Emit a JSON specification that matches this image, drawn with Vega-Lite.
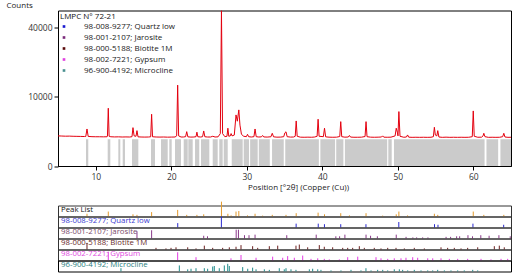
{
"$schema": "https://vega.github.io/schema/vega-lite/v6.json",
"padding": {"left": 5, "top": 0.5, "right": 3, "bottom": 2},
"config": {
  "font": "Open Sans",
  "axis": {"labelFont": "Open Sans", "titleFont": "Open Sans", "labelFontSize": 8.5, "titleFontSize": 8, "titleFontWeight": "normal", "labelColor": "#333", "titleColor": "#222", "domainColor": "#000", "tickColor": "#000", "grid": false},
  "legend": {"labelFont": "Open Sans", "titleFont": "Open Sans"},
  "text": {"font": "Open Sans"}
},
"datasets": {
  "xrd": [
    {"t":5.0,"c":1900},{"t":5.5,"c":1880},{"t":6.0,"c":1860},{"t":6.5,"c":1870},{"t":7.0,"c":1850},{"t":7.5,"c":1840},{"t":8.0,"c":1830},{"t":8.5,"c":1820},{"t":8.68,"c":1830},{"t":8.84,"c":2870},{"t":9.0,"c":1830},{"t":9.5,"c":1800},{"t":10.0,"c":1790},{"t":10.5,"c":1790},{"t":11.0,"c":1780},{"t":11.5,"c":1790},{"t":11.55,"c":1850},{"t":11.66,"c":6990},{"t":11.77,"c":1850},{"t":12.0,"c":1790},{"t":12.5,"c":1770},{"t":13.0,"c":1780},{"t":13.5,"c":1760},{"t":14.0,"c":1770},{"t":14.5,"c":1760},{"t":14.8,"c":1800},{"t":14.93,"c":3080},{"t":15.08,"c":1900},{"t":15.33,"c":1850},{"t":15.46,"c":2620},{"t":15.6,"c":1780},{"t":16.0,"c":1760},{"t":16.5,"c":1750},{"t":17.0,"c":1760},{"t":17.28,"c":1790},{"t":17.4,"c":5610},{"t":17.52,"c":1790},{"t":18.0,"c":1760},{"t":18.5,"c":1750},{"t":19.0,"c":1760},{"t":19.5,"c":1740},{"t":20.0,"c":1750},{"t":20.5,"c":1760},{"t":20.72,"c":1900},{"t":20.85,"c":13690},{"t":20.98,"c":1900},{"t":21.3,"c":1760},{"t":21.6,"c":1760},{"t":21.9,"c":1800},{"t":22.05,"c":2470},{"t":22.2,"c":1780},{"t":22.6,"c":1750},{"t":23.0,"c":1760},{"t":23.28,"c":1800},{"t":23.4,"c":2400},{"t":23.52,"c":1790},{"t":23.9,"c":1760},{"t":24.15,"c":1800},{"t":24.3,"c":2570},{"t":24.45,"c":1790},{"t":24.8,"c":1760},{"t":25.2,"c":1760},{"t":25.5,"c":1850},{"t":25.8,"c":1760},{"t":26.2,"c":1780},{"t":26.5,"c":2200},{"t":26.65,"c":50600},{"t":26.8,"c":2200},{"t":27.1,"c":1800},{"t":27.38,"c":1850},{"t":27.5,"c":2990},{"t":27.62,"c":1850},{"t":27.82,"c":1900},{"t":27.93,"c":2200},{"t":28.05,"c":1900},{"t":28.35,"c":2000},{"t":28.58,"c":5460},{"t":28.75,"c":4200},{"t":28.95,"c":6590},{"t":29.1,"c":3500},{"t":29.3,"c":2100},{"t":29.6,"c":1850},{"t":29.95,"c":1800},{"t":30.1,"c":2100},{"t":30.25,"c":1800},{"t":30.6,"c":1760},{"t":30.95,"c":1800},{"t":31.1,"c":2870},{"t":31.25,"c":1800},{"t":31.6,"c":1760},{"t":31.95,"c":1780},{"t":32.1,"c":1950},{"t":32.25,"c":1770},{"t":32.7,"c":1750},{"t":33.2,"c":1790},{"t":33.38,"c":2240},{"t":33.55,"c":1780},{"t":34.0,"c":1740},{"t":34.5,"c":1750},{"t":34.9,"c":1800},{"t":35.05,"c":2300},{"t":35.2,"c":2450},{"t":35.35,"c":1800},{"t":35.8,"c":1750},{"t":36.2,"c":1760},{"t":36.42,"c":1850},{"t":36.55,"c":4250},{"t":36.68,"c":1850},{"t":37.1,"c":1740},{"t":37.6,"c":1730},{"t":38.1,"c":1740},{"t":38.6,"c":1730},{"t":39.0,"c":1760},{"t":39.32,"c":1850},{"t":39.45,"c":4580},{"t":39.58,"c":1850},{"t":40.15,"c":1800},{"t":40.3,"c":2990},{"t":40.45,"c":1780},{"t":40.9,"c":1740},{"t":41.4,"c":1730},{"t":41.9,"c":1740},{"t":42.32,"c":1820},{"t":42.45,"c":4120},{"t":42.58,"c":1800},{"t":43.0,"c":1740},{"t":43.45,"c":1760},{"t":43.6,"c":1950},{"t":43.75,"c":1750},{"t":44.2,"c":1730},{"t":44.7,"c":1730},{"t":45.2,"c":1740},{"t":45.67,"c":1820},{"t":45.8,"c":4120},{"t":45.93,"c":1800},{"t":46.4,"c":1740},{"t":46.9,"c":1730},{"t":47.4,"c":1740},{"t":47.85,"c":1760},{"t":48.0,"c":1900},{"t":48.15,"c":1740},{"t":48.6,"c":1730},{"t":49.1,"c":1740},{"t":49.65,"c":1900},{"t":49.8,"c":2990},{"t":49.95,"c":2400},{"t":50.03,"c":1900},{"t":50.15,"c":6200},{"t":50.3,"c":1850},{"t":50.8,"c":1730},{"t":51.15,"c":1760},{"t":51.3,"c":2020},{"t":51.45,"c":1740},{"t":51.9,"c":1720},{"t":52.4,"c":1730},{"t":52.9,"c":1720},{"t":53.4,"c":1730},{"t":53.9,"c":1720},{"t":54.4,"c":1730},{"t":54.72,"c":1800},{"t":54.85,"c":3140},{"t":54.98,"c":2000},{"t":55.18,"c":1900},{"t":55.3,"c":2620},{"t":55.45,"c":1760},{"t":55.9,"c":1720},{"t":56.4,"c":1740},{"t":56.9,"c":1720},{"t":57.4,"c":1730},{"t":57.9,"c":1720},{"t":58.4,"c":1730},{"t":58.9,"c":1720},{"t":59.4,"c":1730},{"t":59.87,"c":1800},{"t":60.0,"c":6350},{"t":60.13,"c":1850},{"t":60.6,"c":1730},{"t":61.1,"c":1740},{"t":61.3,"c":1900},{"t":61.4,"c":2240},{"t":61.55,"c":1800},{"t":62.0,"c":1720},{"t":62.5,"c":1730},{"t":63.0,"c":1720},{"t":63.5,"c":1730},{"t":63.9,"c":1800},{"t":64.05,"c":2240},{"t":64.2,"c":1760},{"t":64.6,"c":1720},{"t":65.0,"c":1730}
  ],
  "gray": [
    {"a":8.71,"b":9.01},{"a":11.58,"b":11.93},{"a":12.99,"b":13.25},{"a":13.57,"b":13.87},{"a":14.8,"b":15.64},{"a":17.32,"b":17.85},{"a":18.64,"b":19.53},{"a":19.74,"b":20.06},{"a":20.5,"b":21.29},{"a":21.65,"b":22.18},{"a":22.26,"b":22.84},{"a":23.15,"b":23.71},{"a":23.94,"b":25.04},{"a":25.49,"b":26.15},{"a":26.36,"b":26.81},{"a":26.95,"b":27.48},{"a":28.01,"b":29.46},{"a":29.6,"b":30.3},{"a":30.45,"b":31.45},{"a":31.6,"b":33.05},{"a":33.35,"b":34.9},{"a":35.1,"b":39.55},{"a":39.75,"b":41.7},{"a":41.85,"b":42.8},{"a":43.0,"b":48.6},{"a":48.75,"b":49.2},{"a":49.5,"b":61.5},{"a":61.75,"b":63.3},{"a":63.6,"b":65.0}
  ],
  "phases": [
    {"phase":"98-008-9277; Quartz low"},{"phase":"98-001-2107; Jarosite"},{"phase":"98-000-5188; Biotite 1M"},{"phase":"98-002-7221; Gypsum"},{"phase":"96-900-4192; Microcline"}
  ],
  "peaklist": [
    {"t":8.84,"h":0.25},{"t":11.66,"h":0.45},{"t":14.93,"h":0.2},{"t":15.46,"h":0.15},{"t":17.4,"h":0.4},{"t":20.85,"h":0.6},{"t":22.05,"h":0.15},{"t":23.4,"h":0.15},{"t":24.3,"h":0.2},{"t":26.65,"h":1.35},{"t":27.5,"h":0.25},{"t":27.93,"h":0.1},{"t":28.58,"h":0.45},{"t":28.95,"h":0.5},{"t":30.1,"h":0.1},{"t":31.1,"h":0.25},{"t":32.1,"h":0.08},{"t":33.38,"h":0.15},{"t":35.2,"h":0.15},{"t":36.55,"h":0.3},{"t":39.45,"h":0.35},{"t":40.3,"h":0.2},{"t":42.45,"h":0.3},{"t":43.6,"h":0.1},{"t":45.8,"h":0.3},{"t":48.0,"h":0.08},{"t":49.8,"h":0.2},{"t":50.15,"h":0.45},{"t":51.3,"h":0.1},{"t":54.85,"h":0.25},{"t":55.3,"h":0.15},{"t":60.0,"h":0.45},{"t":61.4,"h":0.15},{"t":64.05,"h":0.15}
  ],
  "quartz": [
    {"t":20.86,"h":0.4},{"t":26.64,"h":1.0},{"t":36.54,"h":0.35},{"t":39.47,"h":0.35},{"t":40.29,"h":0.3},{"t":42.45,"h":0.3},{"t":45.79,"h":0.3},{"t":50.14,"h":0.5},{"t":54.87,"h":0.3},{"t":55.33,"h":0.25},{"t":59.96,"h":0.35},{"t":64.03,"h":0.25}
  ],
  "jarosite": [
    {"t":15.46,"h":0.65},{"t":17.4,"h":0.75},{"t":24.3,"h":0.25},{"t":24.8,"h":0.2},{"t":28.6,"h":0.8},{"t":28.9,"h":0.8},{"t":29.7,"h":0.3},{"t":30.3,"h":0.3},{"t":31.1,"h":0.35},{"t":35.3,"h":0.3},{"t":39.2,"h":0.35},{"t":41.8,"h":0.2},{"t":42.3,"h":0.2},{"t":43.0,"h":0.35},{"t":45.8,"h":0.35},{"t":46.4,"h":0.25},{"t":47.3,"h":0.2},{"t":49.8,"h":0.35},{"t":51.1,"h":0.15},{"t":52.0,"h":0.1},{"t":52.5,"h":0.1},{"t":53.3,"h":0.1},{"t":54.0,"h":0.1},{"t":56.4,"h":0.15},{"t":57.0,"h":0.15},{"t":57.8,"h":0.2},{"t":58.2,"h":0.2},{"t":59.3,"h":0.3},{"t":59.9,"h":0.2},{"t":61.0,"h":0.3},{"t":62.1,"h":0.25},{"t":63.4,"h":0.3},{"t":64.9,"h":0.2}
  ],
  "biotite": [
    {"t":8.84,"h":0.6},{"t":17.98,"h":0.15},{"t":19.3,"h":0.1},{"t":19.97,"h":0.15},{"t":20.63,"h":0.2},{"t":22.18,"h":0.2},{"t":23.28,"h":0.1},{"t":24.38,"h":0.35},{"t":25.49,"h":0.15},{"t":26.81,"h":0.15},{"t":27.69,"h":0.2},{"t":28.58,"h":0.25},{"t":29.24,"h":0.4},{"t":30.78,"h":0.3},{"t":31.45,"h":0.15},{"t":32.99,"h":0.3},{"t":34.1,"h":0.35},{"t":36.52,"h":0.35},{"t":36.96,"h":0.45},{"t":38.07,"h":0.2},{"t":39.61,"h":0.4},{"t":40.27,"h":0.25},{"t":41.38,"h":0.2},{"t":42.71,"h":0.15},{"t":43.37,"h":0.15},{"t":44.03,"h":0.15},{"t":44.91,"h":0.3},{"t":45.57,"h":0.15},{"t":46.89,"h":0.15},{"t":47.78,"h":0.1},{"t":48.67,"h":0.15},{"t":49.77,"h":0.15},{"t":50.87,"h":0.1},{"t":52.19,"h":0.15},{"t":53.52,"h":0.1},{"t":55.73,"h":0.2},{"t":56.61,"h":0.15},{"t":57.49,"h":0.15},{"t":58.38,"h":0.1},{"t":59.26,"h":0.15},{"t":60.59,"h":0.2},{"t":62.79,"h":0.3},{"t":63.45,"h":0.35},{"t":64.11,"h":0.2}
  ],
  "gypsum": [
    {"t":11.66,"h":0.8},{"t":20.85,"h":0.75},{"t":23.28,"h":0.3},{"t":27.91,"h":0.2},{"t":29.24,"h":0.5},{"t":31.23,"h":0.25},{"t":33.43,"h":0.35},{"t":34.76,"h":0.25},{"t":35.42,"h":0.4},{"t":36.3,"h":0.25},{"t":37.41,"h":0.45},{"t":38.51,"h":0.15},{"t":39.4,"h":0.2},{"t":40.27,"h":0.15},{"t":40.93,"h":0.1},{"t":42.26,"h":0.1},{"t":43.37,"h":0.3},{"t":44.7,"h":0.35},{"t":47.12,"h":0.3},{"t":47.78,"h":0.2},{"t":48.67,"h":0.15},{"t":49.54,"h":0.2},{"t":50.43,"h":0.2},{"t":51.09,"h":0.25},{"t":51.98,"h":0.3},{"t":52.64,"h":0.25},{"t":53.97,"h":0.2},{"t":54.63,"h":0.2},{"t":55.73,"h":0.2},{"t":56.83,"h":0.15},{"t":57.94,"h":0.15},{"t":59.26,"h":0.15},{"t":61.03,"h":0.15},{"t":62.35,"h":0.1},{"t":63.68,"h":0.15},{"t":64.56,"h":0.15}
  ],
  "microcline": [
    {"t":13.34,"h":0.3},{"t":21.07,"h":0.55},{"t":22.18,"h":0.2},{"t":22.62,"h":0.25},{"t":23.28,"h":0.3},{"t":24.38,"h":0.3},{"t":24.82,"h":0.25},{"t":25.49,"h":0.45},{"t":25.7,"h":0.5},{"t":26.36,"h":0.3},{"t":27.03,"h":0.55},{"t":27.48,"h":0.7},{"t":27.69,"h":0.5},{"t":29.46,"h":0.4},{"t":30.13,"h":0.25},{"t":30.78,"h":0.35},{"t":31.23,"h":0.2},{"t":32.33,"h":0.2},{"t":32.99,"h":0.15},{"t":34.31,"h":0.3},{"t":34.97,"h":0.2},{"t":35.2,"h":0.3},{"t":35.86,"h":0.2},{"t":36.52,"h":0.15},{"t":38.29,"h":0.2},{"t":38.73,"h":0.25},{"t":39.4,"h":0.2},{"t":39.83,"h":0.15},{"t":41.16,"h":0.1},{"t":42.48,"h":0.1},{"t":43.81,"h":0.15},{"t":45.13,"h":0.1},{"t":45.79,"h":0.3},{"t":46.46,"h":0.1},{"t":47.34,"h":0.15},{"t":48.01,"h":0.15},{"t":48.67,"h":0.1},{"t":49.54,"h":0.2},{"t":50.21,"h":0.2},{"t":50.65,"h":0.15},{"t":51.32,"h":0.1},{"t":52.19,"h":0.15},{"t":53.08,"h":0.1},{"t":53.97,"h":0.1},{"t":54.63,"h":0.1},{"t":55.29,"h":0.15},{"t":56.17,"h":0.1},{"t":57.05,"h":0.1},{"t":57.94,"h":0.1},{"t":58.81,"h":0.1},{"t":59.93,"h":0.15},{"t":60.59,"h":0.1}
  ]
},
"spacing": 8,
"vconcat": [
  {
    "width": 453, "height": 155.5,
    "view": {"stroke": "#000", "strokeWidth": 1},
    "resolve": {"scale": {"color": "independent"}},
    "layer": [
      {
        "data": {"name": "gray"},
        "mark": {"type": "rect", "color": "#cbcbcb"},
        "encoding": {
          "x": {"field": "a", "type": "quantitative", "scale": {"domain": [5, 65], "nice": false, "zero": false},
            "axis": {"values": [10, 20, 30, 40, 50, 60],
              "tickSize": 4,
              "labelPadding": 2, "labelFlush": false,
              "title": "Position [°2θ] (Copper (Cu))", "titleX": 240, "titlePadding": 3}},
          "x2": {"field": "b"},
          "y": {"datum": 0, "type": "quantitative", "scale": {"type": "sqrt", "domain": [0, 50625], "nice": false, "zero": true},
            "axis": {"values": [0, 10000, 40000], "format": "d", "tickSize": 4, "labelPadding": 2,
              "title": "Counts", "titleAngle": 0, "titleX": -52, "titleY": -5, "titleAlign": "left", "titleBaseline": "middle"}},
          "y2": {"datum": 1500}
        }
      },
      {
        "data": {"name": "xrd"},
        "mark": {"type": "line", "color": "#e3000f", "strokeWidth": 1, "clip": true},
        "encoding": {
          "x": {"field": "t", "type": "quantitative"},
          "y": {"field": "c", "type": "quantitative"}
        }
      },
      {
        "data": {"name": "phases"},
        "transform": [{"filter": "datum.phase == null"}],
        "mark": {"type": "point", "shape": "square", "filled": true, "opacity": 1},
        "encoding": {
          "x": {"datum": 5},
          "y": {"datum": 0},
          "color": {"field": "phase", "type": "nominal",
            "scale": {"domain": ["98-008-9277; Quartz low", "98-001-2107; Jarosite", "98-000-5188; Biotite 1M", "98-002-7221; Gypsum", "96-900-4192; Microcline"],
                      "range": ["#1a1ad0", "#7a2a7a", "#5a0a0a", "#e040e0", "#4a9090"]},
            "legend": {"orient": "top-left", "offset": 2, "padding": 0, "title": "LMPC N° 72-21",
              "titleFontSize": 8, "titleFontWeight": "normal", "titleColor": "#111", "titlePadding": 2,
              "labelFontSize": 8, "labelColor": "#222", "labelOffset": 16, "rowPadding": 3,
              "symbolType": "square", "symbolSize": 7, "symbolStrokeWidth": 0}}
        }
      }
    ]
  },
  {
    "spacing": 0,
    "bounds": "flush",
    "vconcat": [
      {"width": 453, "height": 11, "view": {"stroke": "#333"},
       "layer": [
        {"data": {"name": "peaklist"}, "mark": {"type": "rule", "color": "#e39a2c", "strokeWidth": 1, "clip": false},
         "encoding": {"x": {"field": "t", "type": "quantitative", "scale": {"domain": [5, 65], "nice": false, "zero": false}, "axis": null},
                      "y": {"field": "h", "type": "quantitative", "scale": {"domain": [0, 1]}, "axis": null}, "y2": {"datum": 0}}},
        {"data": {"values": [{"label": "Peak List"}]}, "mark": {"type": "text", "align": "left", "baseline": "middle", "fontSize": 7.8, "color": "#111"},
         "encoding": {"x": {"datum": 5.4}, "y": {"datum": 0.55}, "text": {"field": "label"}}}
       ]},
      {"width": 453, "height": 11, "view": {"stroke": "#333"},
       "layer": [
        {"data": {"name": "quartz"}, "mark": {"type": "rule", "color": "#2a2ad0", "strokeWidth": 1, "clip": false},
         "encoding": {"x": {"field": "t", "type": "quantitative", "scale": {"domain": [5, 65], "nice": false, "zero": false}, "axis": null},
                      "y": {"field": "h", "type": "quantitative", "scale": {"domain": [0, 1]}, "axis": null}, "y2": {"datum": 0}}},
        {"data": {"values": [{"label": "98-008-9277; Quartz low"}]}, "mark": {"type": "text", "align": "left", "baseline": "middle", "fontSize": 7.8, "color": "#3a3ad0"},
         "encoding": {"x": {"datum": 5.4}, "y": {"datum": 0.55}, "text": {"field": "label"}}}
       ]},
      {"width": 453, "height": 11, "view": {"stroke": "#333"},
       "layer": [
        {"data": {"name": "jarosite"}, "mark": {"type": "rule", "color": "#8a3a8a", "strokeWidth": 1, "clip": false},
         "encoding": {"x": {"field": "t", "type": "quantitative", "scale": {"domain": [5, 65], "nice": false, "zero": false}, "axis": null},
                      "y": {"field": "h", "type": "quantitative", "scale": {"domain": [0, 1]}, "axis": null}, "y2": {"datum": 0}}},
        {"data": {"values": [{"label": "98-001-2107; Jarosite"}]}, "mark": {"type": "text", "align": "left", "baseline": "middle", "fontSize": 7.8, "color": "#7a4a6a"},
         "encoding": {"x": {"datum": 5.4}, "y": {"datum": 0.55}, "text": {"field": "label"}}}
       ]},
      {"width": 453, "height": 11, "view": {"stroke": "#333"},
       "layer": [
        {"data": {"name": "biotite"}, "mark": {"type": "rule", "color": "#6b1f1f", "strokeWidth": 1, "clip": false},
         "encoding": {"x": {"field": "t", "type": "quantitative", "scale": {"domain": [5, 65], "nice": false, "zero": false}, "axis": null},
                      "y": {"field": "h", "type": "quantitative", "scale": {"domain": [0, 1]}, "axis": null}, "y2": {"datum": 0}}},
        {"data": {"values": [{"label": "98-000-5188; Biotite 1M"}]}, "mark": {"type": "text", "align": "left", "baseline": "middle", "fontSize": 7.8, "color": "#6a2a2a"},
         "encoding": {"x": {"datum": 5.4}, "y": {"datum": 0.55}, "text": {"field": "label"}}}
       ]},
      {"width": 453, "height": 11, "view": {"stroke": "#333"},
       "layer": [
        {"data": {"name": "gypsum"}, "mark": {"type": "rule", "color": "#e23ce2", "strokeWidth": 1, "clip": false},
         "encoding": {"x": {"field": "t", "type": "quantitative", "scale": {"domain": [5, 65], "nice": false, "zero": false}, "axis": null},
                      "y": {"field": "h", "type": "quantitative", "scale": {"domain": [0, 1]}, "axis": null}, "y2": {"datum": 0}}},
        {"data": {"values": [{"label": "98-002-7221; Gypsum"}]}, "mark": {"type": "text", "align": "left", "baseline": "middle", "fontSize": 7.8, "color": "#e04ae0"},
         "encoding": {"x": {"datum": 5.4}, "y": {"datum": 0.55}, "text": {"field": "label"}}}
       ]},
      {"width": 453, "height": 11, "view": {"stroke": "#000"},
       "layer": [
        {"data": {"name": "microcline"}, "mark": {"type": "rule", "color": "#1f8a8a", "strokeWidth": 1, "clip": false},
         "encoding": {"x": {"field": "t", "type": "quantitative", "scale": {"domain": [5, 65], "nice": false, "zero": false}, "axis": null},
                      "y": {"field": "h", "type": "quantitative", "scale": {"domain": [0, 1]}, "axis": null}, "y2": {"datum": 0}}},
        {"data": {"values": [{"label": "96-900-4192; Microcline"}]}, "mark": {"type": "text", "align": "left", "baseline": "middle", "fontSize": 7.8, "color": "#2a8080"},
         "encoding": {"x": {"datum": 5.4}, "y": {"datum": 0.55}, "text": {"field": "label"}}}
       ]}
    ]
  }
]
}
